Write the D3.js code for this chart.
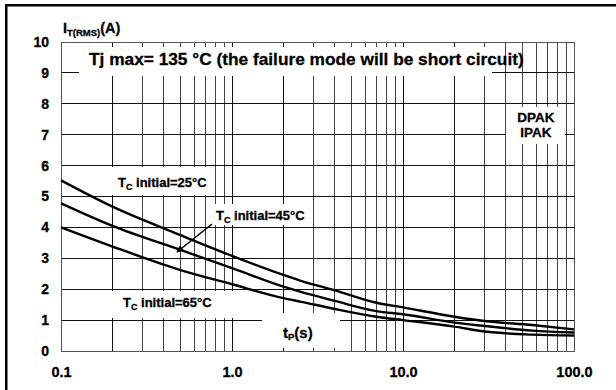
<!DOCTYPE html>
<html>
<head>
<meta charset="utf-8">
<script src="https://cdn.jsdelivr.net/npm/d3@7"></script>
<style>
  html, body { margin: 0; padding: 0; background: #fff; }
  svg { display: block; font-family: "Liberation Sans", Arial, Helvetica, sans-serif; font-weight: bold; }
  svg text { stroke: #000; stroke-width: 0.3px; }
</style>
</head>
<body>
<svg id="chart" width="616" height="390"></svg>
<script>
// Pulse duration tP (s), log axis
const pulseTimes = [0.1, 0.2, 0.5, 1.0, 2.0, 2.5, 4.0, 7.0, 10, 20, 30, 57, 100];
// Maximum RMS on-state current (A) for each initial case temperature
const current25 = [5.52, 4.67, 3.75, 3.08, 2.46, 2.28, 1.96, 1.56, 1.41, 1.11, 0.97, 0.84, 0.70];
const current45 = [4.78, 4.05, 3.27, 2.68, 2.08, 1.92, 1.62, 1.29, 1.19, 0.92, 0.81, 0.66, 0.60];
const current65 = [4.00, 3.38, 2.62, 2.16, 1.71, 1.60, 1.36, 1.11, 1.00, 0.79, 0.63, 0.53, 0.50];

const xTickValues = [0.1, 1, 10, 100];
const xTickLabels = ["0.1", "1.0", "10.0", "100.0"];
const yTickValues = [0, 1, 2, 3, 4, 5, 6, 7, 8, 9, 10];

const titleText = "Tj max= 135 °C (the failure mode will be short circuit)";
const packageLines = ["DPAK", "IPAK"];

const svg = d3.select("#chart");
const plotLeft = 61, plotRight = 574, plotTop = 42, plotBottom = 351;

const x = d3.scaleLog().domain([0.1, 100]).range([plotLeft, plotRight]);
const y = d3.scaleLinear().domain([0, 10]).range([plotBottom, plotTop]);

// Outer frame (top and left edges)
svg.append("rect").attr("x", 5).attr("y", 4).attr("width", 611).attr("height", 2.5).attr("fill", "#000");
svg.append("rect").attr("x", 5).attr("y", 4).attr("width", 2.5).attr("height", 386).attr("fill", "#000");

// Log grid: every integer multiple inside each decade
const gridX = [];
[0.1, 1, 10].forEach(d => { for (let k = 1; k <= 9; k++) gridX.push(+(d * k).toPrecision(3)); });
gridX.push(100);

const grid = svg.append("g");
grid.selectAll("line.v").data(gridX).join("line")
  .attr("x1", d => x(d)).attr("x2", d => x(d))
  .attr("y1", plotTop).attr("y2", plotBottom)
  .attr("stroke", d => {
    const m = Math.round(d / Math.pow(10, Math.floor(Math.log10(d) + 1e-9)));
    return (m === 1 || m === 2) ? "#111" : "#444";
  })
  .attr("stroke-width", 1)
  .attr("shape-rendering", "crispEdges");

grid.selectAll("line.h").data(yTickValues).join("line")
  .attr("x1", plotLeft).attr("x2", plotRight)
  .attr("y1", d => y(d)).attr("y2", d => y(d))
  .attr("stroke", d => (d === 0 || d === 10) ? "#555" : "#111")
  .attr("stroke-width", 1)
  .attr("shape-rendering", "crispEdges");

// Plot border
svg.append("rect").attr("x", plotLeft).attr("y", plotTop)
  .attr("width", plotRight - plotLeft).attr("height", plotBottom - plotTop)
  .attr("fill", "none").attr("stroke", "#555").attr("stroke-width", 1).attr("shape-rendering", "crispEdges");

// White label backgrounds that interrupt the grid
const boxes = [
  [79, 47, 413, 29],    // title
  [506, 107, 59, 37],   // package
  [102, 167, 110, 28],  // 25 °C
  [212, 204, 94, 21],   // 45 °C
  [102, 291, 138, 27],  // 65 °C
  [262, 313, 78, 35]    // tP(s)
];
svg.append("g").selectAll("rect").data(boxes).join("rect")
  .attr("x", d => d[0]).attr("y", d => d[1]).attr("width", d => d[2]).attr("height", d => d[3])
  .attr("fill", "#fff");

// Curves
const line = d3.line().x(d => x(d[0])).y(d => y(d[1])).curve(d3.curveMonotoneX);
[current25, current45, current65].forEach(series => {
  svg.append("path")
    .datum(pulseTimes.map((t, i) => [t, series[i]]))
    .attr("d", line)
    .attr("fill", "none").attr("stroke", "#000").attr("stroke-width", 2.4);
});

// Axes
const yAxis = svg.append("g").attr("transform", `translate(${plotLeft},0)`)
  .call(d3.axisLeft(y).tickValues(yTickValues).tickSize(0).tickPadding(12));
yAxis.select(".domain").remove();
yAxis.selectAll("text").attr("font-size", 14).attr("font-weight", "bold").attr("fill", "#000")
  .attr("font-family", "Liberation Sans, Arial, sans-serif");

const xAxis = svg.append("g").attr("transform", `translate(0,${plotBottom})`)
  .call(d3.axisBottom(x).tickValues(xTickValues).tickFormat((d, i) => xTickLabels[i]).tickSize(0).tickPadding(16));
xAxis.select(".domain").remove();
xAxis.selectAll("text").attr("font-size", 14.5).attr("font-weight", "bold").attr("fill", "#000")
  .attr("font-family", "Liberation Sans, Arial, sans-serif");

// Y axis title: I_T(RMS)(A)
const yTitle = svg.append("text").attr("x", 63).attr("y", 33).attr("font-size", 14.5).attr("fill", "#000");
yTitle.append("tspan").text("I");
yTitle.append("tspan").attr("font-size", 9.5).attr("dy", 3).text("T(RMS)");
yTitle.append("tspan").attr("dy", -3).text("(A)");

// Title
svg.append("text").attr("x", 89).attr("y", 65).attr("font-size", 17.3).attr("fill", "#000").text(titleText);

// Package label
svg.append("g").selectAll("text").data(packageLines).join("text")
  .attr("x", 536).attr("y", (d, i) => 122 + i * 15)
  .attr("text-anchor", "middle").attr("font-size", 13.5).attr("fill", "#000")
  .text(d => d);

// Temperature labels with subscript C
const tempLabels = [
  { text: "initial=25°C", x: 118, y: 187 },
  { text: "initial=45°C", x: 216, y: 220 },
  { text: "initial=65°C", x: 123, y: 307 }
];
tempLabels.forEach(l => {
  const t = svg.append("text").attr("x", l.x).attr("y", l.y).attr("font-size", 13).attr("fill", "#000");
  t.append("tspan").text("T");
  t.append("tspan").attr("font-size", 9).attr("dy", 3).text("C");
  t.append("tspan").attr("dy", -3).text(" " + l.text);
});

// tP(s)
const tp = svg.append("text").attr("x", 283).attr("y", 338).attr("font-size", 15).attr("fill", "#000");
tp.append("tspan").text("t");
tp.append("tspan").attr("font-size", 9.5).attr("dy", 2).text("P");
tp.append("tspan").attr("dy", -2).text("(s)");

// Arrow pointing to the 45 °C curve
svg.append("defs").append("marker")
  .attr("id", "head").attr("viewBox", "0 0 10 10").attr("refX", 9).attr("refY", 5)
  .attr("markerWidth", 9).attr("markerHeight", 7).attr("markerUnits", "userSpaceOnUse").attr("orient", "auto")
  .append("path").attr("d", "M0,0 L10,5 L0,10 Z").attr("fill", "#000");
svg.append("line").attr("x1", 212).attr("y1", 224).attr("x2", 177).attr("y2", 252)
  .attr("stroke", "#000").attr("stroke-width", 1.6).attr("marker-end", "url(#head)");
</script>
</body>
</html>
